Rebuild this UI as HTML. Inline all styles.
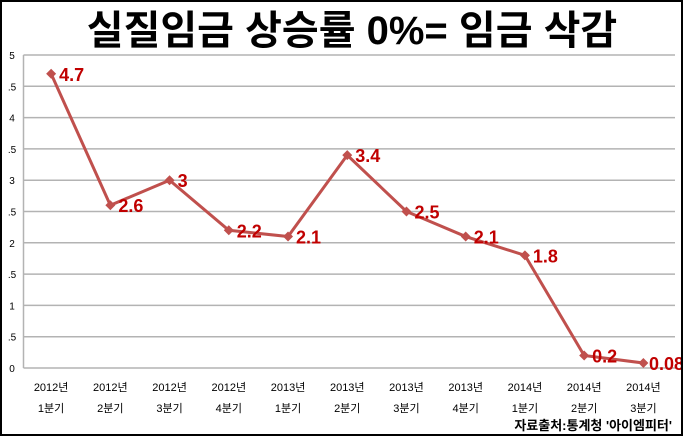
<!DOCTYPE html>
<html><head><meta charset="utf-8"><style>
html,body{margin:0;padding:0;background:#fff;}
#wrap{position:relative;width:683px;height:436px;box-sizing:border-box;border:2px solid #000;overflow:hidden;}
svg{position:absolute;left:0;top:0;}
text{font-family:"Liberation Sans","Noto Sans CJK KR",sans-serif;}
</style></head><body>
<div id="wrap">
<svg id="chart" width="683" height="436">
<text x="350" y="42" text-anchor="middle" font-size="40" font-weight="bold" fill="#000">실질임금 상승률 0%= 임금 삭감</text>
<text x="670" y="428" text-anchor="end" font-size="13" font-weight="bold" fill="#000">자료출처:통계청 '아이엠피터'</text>
</svg>
</div>
<script>
const years = ["2012년","2012년","2012년","2012년","2013년","2013년","2013년","2013년","2014년","2014년","2014년"];
const quarters = ["1분기","2분기","3분기","4분기","1분기","2분기","3분기","4분기","1분기","2분기","3분기"];
const values = [4.7,2.6,3,2.2,2.1,3.4,2.5,2.1,1.8,0.2,0.08];
const labels = ["4.7","2.6","3","2.2","2.1","3.4","2.5","2.1","1.8","0.2","0.08"];
const yTicks = [0,0.5,1,1.5,2,2.5,3,3.5,4,4.5,5];
const yTickLabels = ["0",".5","1",".5","2",".5","3",".5","4",".5","5"];

const svg = document.getElementById('chart');
const NS = "http://www.w3.org/2000/svg";
const plotLeft = 21.5, plotRight = 673, plotTop = 53, plotBottom = 366;
const step = (plotRight - plotLeft) / years.length;
const xs = i => plotLeft - 2 + step * (i + 0.5);
const ys = v => plotBottom - (v / 5) * (plotBottom - plotTop);
function mk(tag, attrs){const e=document.createElementNS(NS,tag);for(const k in attrs)e.setAttribute(k,attrs[k]);svg.appendChild(e);return e;}

yTicks.forEach((t,i)=>{
  const g = mk('line',{x1:plotLeft,x2:plotRight,y1:ys(t),y2:ys(t),stroke:'#b3b3b3','stroke-width':1.5});
  
  
  const tl = mk('text',{x:10,y:ys(t)+4,'text-anchor':'middle','font-size':10,fill:'#000'});
  tl.textContent = yTickLabels[i];
  
  
});
const ax = mk('line',{x1:plotLeft,x2:plotLeft,y1:plotTop,y2:plotBottom,stroke:'#b3b3b3','stroke-width':1.5});



years.forEach((y,i)=>{
  const t1 = mk('text',{x:xs(i),y:389,'text-anchor':'middle','font-size':11,fill:'#000'});
  t1.textContent = y;
  
  
  const t2 = mk('text',{x:xs(i),y:410,'text-anchor':'middle','font-size':11,fill:'#000'});
  t2.textContent = quarters[i];
  
  
});

const line = mk('polyline',{points:values.map((v,i)=>xs(i)+','+ys(v)).join(' '),fill:'none',stroke:'#c0504d','stroke-width':3});



values.forEach((v,i)=>{
  const x=xs(i), y=ys(v);
  const m = mk('polygon',{points:`${x},${y-5} ${x+5},${y} ${x},${y+5} ${x-5},${y}`,fill:'#c0504d'});
  
  
  const l = mk('text',{x:x+8,y:y+7,'font-size':18,'font-weight':'bold',fill:'#c00000'});
  l.textContent = labels[i];
  
  
  const w = l.getComputedTextLength();
  if (x + 8 + w > 682) l.setAttribute('x', 682 - w);
});
</script>
</body></html>
